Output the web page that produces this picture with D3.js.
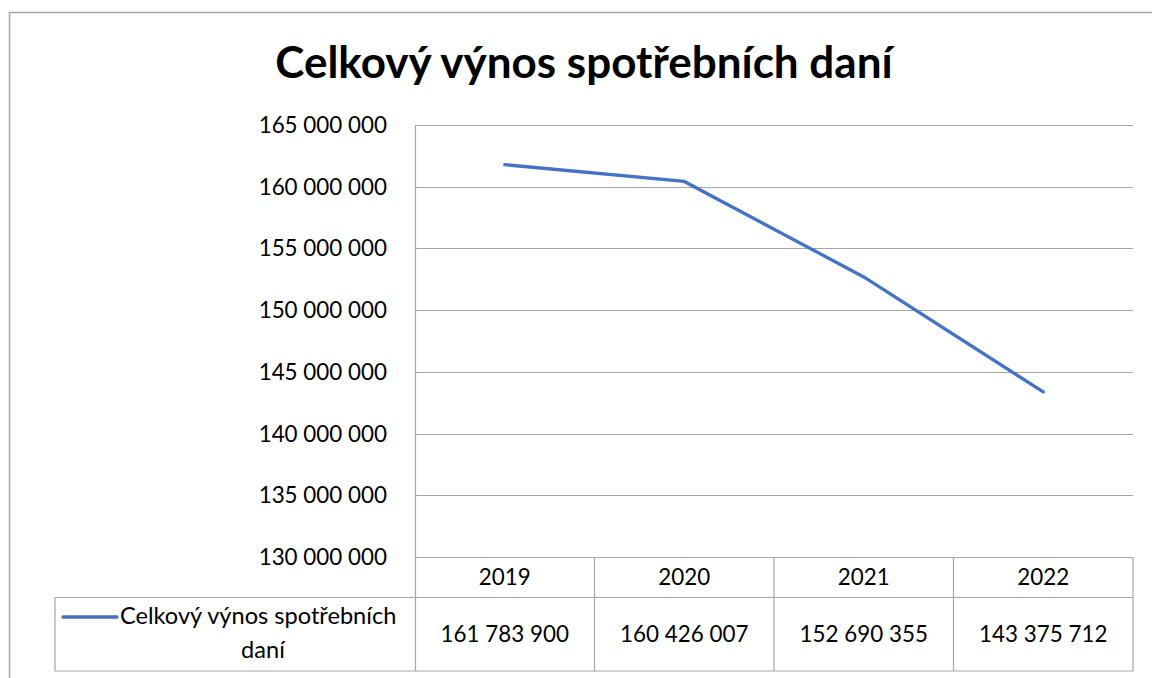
<!DOCTYPE html>
<html><head><meta charset="utf-8">
<script src="https://cdn.jsdelivr.net/npm/d3@7"></script>
<style>body{margin:0;background:#fff}svg{display:block}text{font-family:Lato,"Open Sans",sans-serif}</style>
</head><body>
<svg id="c" width="1152" height="678"></svg>
<script>
const title = "Celkový výnos spotřebních daní";
const seriesName = "Celkový výnos spotřebních daní";
const years = ["2019","2020","2021","2022"];
const values = [161783900, 160426007, 152690355, 143375712];
const yTicks = [130000000,135000000,140000000,145000000,150000000,155000000,160000000,165000000];

const svg = d3.select("#c");
const fmt = v => d3.format(",")(v).replace(/,/g, " ");
const FS = 22.4;

// outer frame
svg.append("path").attr("d","M9.5,678 L9.5,12.5 L1152,12.5").attr("fill","none").attr("stroke","#a6a6a6").attr("stroke-width",1.5);

const L = 415, R = 1133, T = 125, B = 557;
const x = d3.scaleBand().domain(years).range([L, R]);
const y = d3.scaleLinear().domain([130000000,165000000]).range([B, T]);

svg.append("text").attr("x", 584).attr("y", 78).attr("text-anchor","middle")
  .attr("font-size", 44).attr("font-weight", "bold").attr("fill","#000").text(title);

// gridlines
svg.append("g").selectAll("line").data(yTicks).join("line")
  .attr("x1", L).attr("x2", R).attr("y1", d=>Math.round(y(d))+0.5).attr("y2", d=>Math.round(y(d))+0.5)
  .attr("stroke","#a6a6a6").attr("stroke-width",1.2);
svg.append("line").attr("x1",L+0.5).attr("x2",L+0.5).attr("y1",T).attr("y2",B).attr("stroke","#a6a6a6").attr("stroke-width",1.2);

svg.append("g").selectAll("text").data(yTicks).join("text")
  .attr("x", 387).attr("y", d=>y(d)+8).attr("text-anchor","end").attr("font-size",FS).attr("fill","#000").text(fmt);

// line
svg.append("path").datum(values)
  .attr("d", d3.line().x((d,i)=>x(years[i])+x.bandwidth()/2).y(d=>y(d)))
  .attr("fill","none").attr("stroke","#4472C4").attr("stroke-width",3.3).attr("stroke-linecap","round");

// data table
const tB = 671, hB = 597.5, legL = 55;
const g = svg.append("g").attr("stroke","#a6a6a6").attr("stroke-width",1.2).attr("fill","none");
g.append("line").attr("x1",L).attr("x2",R).attr("y1",hB).attr("y2",hB);
g.append("line").attr("x1",legL).attr("x2",L).attr("y1",hB).attr("y2",hB);
g.append("line").attr("x1",legL).attr("x2",R).attr("y1",tB).attr("y2",tB);
g.append("line").attr("x1",legL).attr("x2",legL).attr("y1",hB).attr("y2",tB);
g.selectAll(".v").data(years).join("line").attr("class","v")
  .attr("x1",d=>x(d)+x.bandwidth()).attr("x2",d=>x(d)+x.bandwidth()).attr("y1",B).attr("y2",tB);
g.append("line").attr("x1",L+0.5).attr("x2",L+0.5).attr("y1",B).attr("y2",tB);

svg.append("g").selectAll("text").data(years).join("text")
  .attr("x", d=>x(d)+x.bandwidth()/2).attr("y", 585).attr("text-anchor","middle").attr("font-size",FS).text(d=>d);
svg.append("g").selectAll("text").data(values).join("text")
  .attr("x", (d,i)=>x(years[i])+x.bandwidth()/2).attr("y", 642).attr("text-anchor","middle").attr("font-size",FS).text(fmt);

svg.append("line").attr("x1",63).attr("x2",117).attr("y1",617).attr("y2",617).attr("stroke","#4472C4").attr("stroke-width",3.3).attr("stroke-linecap","round");
const words = seriesName.split(" ");
svg.append("text").attr("x",120).attr("y",624).attr("text-anchor","start").attr("font-size",23.6).text(words.slice(0,3).join(" "));
svg.append("text").attr("x",263).attr("y",658).attr("text-anchor","middle").attr("font-size",23.6).text(words.slice(3).join(" "));
</script>
</body></html>
